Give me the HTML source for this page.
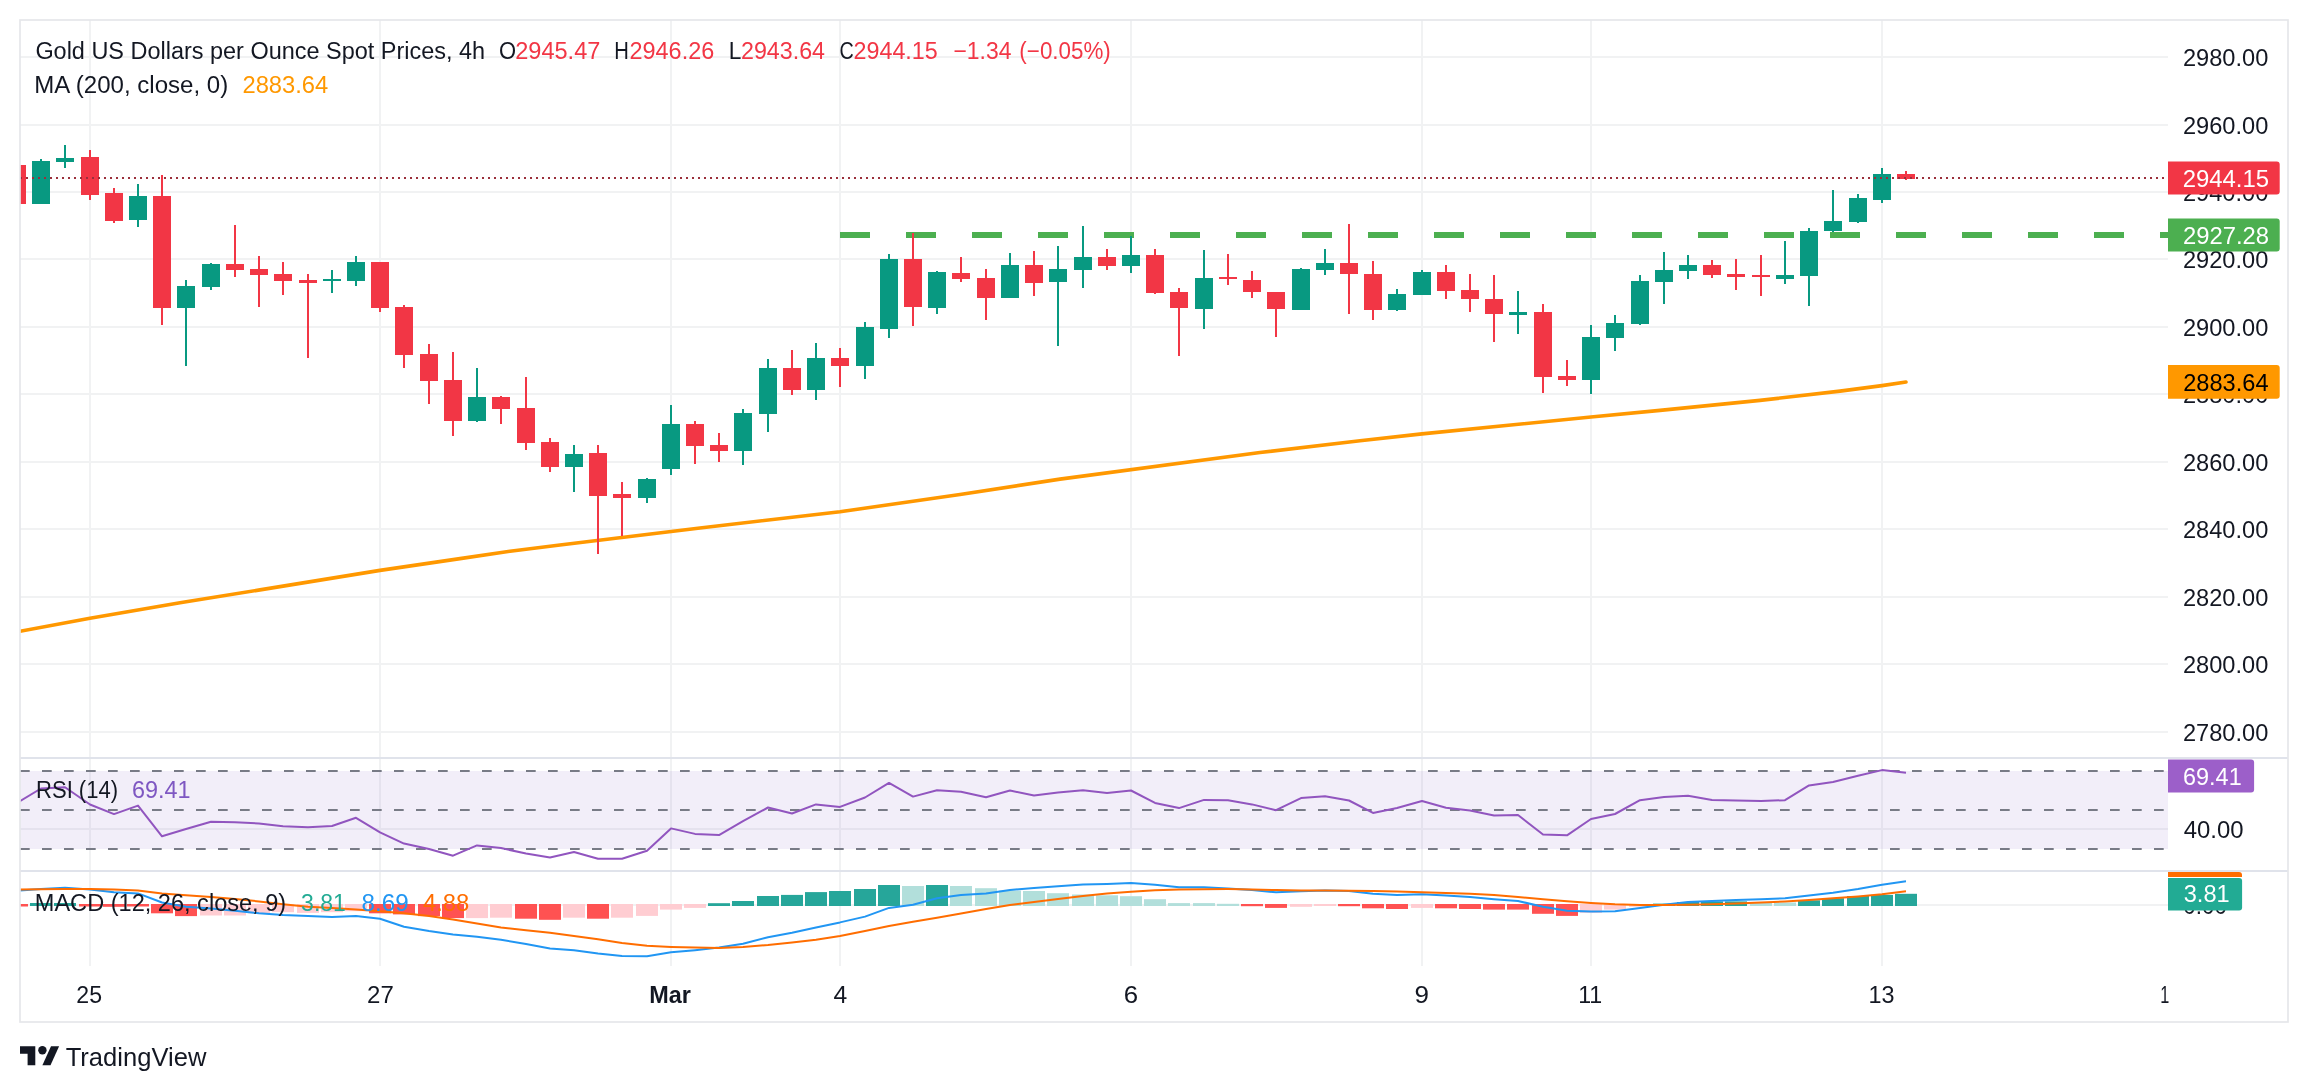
<!DOCTYPE html>
<html><head><meta charset="utf-8"><title>Gold US Dollars per Ounce Spot Prices chart</title><style>
html,body{margin:0;padding:0;background:#ffffff;width:2308px;height:1092px;overflow:hidden}
svg{display:block;will-change:transform}
text{font-family:"Liberation Sans",sans-serif}
</style></head><body>
<svg width="2308" height="1092" viewBox="0 0 2308 1092">
<rect x="0" y="0" width="2308" height="1092" fill="#ffffff"/>
<g fill="#F1F2F3">
<rect x="20" y="56" width="2148" height="2"/>
<rect x="20" y="124" width="2148" height="2"/>
<rect x="20" y="191" width="2148" height="2"/>
<rect x="20" y="258" width="2148" height="2"/>
<rect x="20" y="326" width="2148" height="2"/>
<rect x="20" y="393" width="2148" height="2"/>
<rect x="20" y="461" width="2148" height="2"/>
<rect x="20" y="528" width="2148" height="2"/>
<rect x="20" y="596" width="2148" height="2"/>
<rect x="20" y="663" width="2148" height="2"/>
<rect x="20" y="731" width="2148" height="2"/>
<rect x="89" y="20" width="2" height="946"/>
<rect x="379" y="20" width="2" height="946"/>
<rect x="670" y="20" width="2" height="946"/>
<rect x="839" y="20" width="2" height="946"/>
<rect x="1130" y="20" width="2" height="946"/>
<rect x="1421" y="20" width="2" height="946"/>
<rect x="1590" y="20" width="2" height="946"/>
<rect x="1881" y="20" width="2" height="946"/>
</g>
<rect x="20" y="828" width="2148" height="2" fill="#F1F2F3"/>
<rect x="20" y="771" width="2148" height="78" fill="#7E57C2" fill-opacity="0.1"/>
<line x1="20" y1="771" x2="2168" y2="771" stroke="#787B86" stroke-width="2" stroke-dasharray="9.7 12.3"/>
<line x1="20" y1="810" x2="2168" y2="810" stroke="#787B86" stroke-width="2" stroke-dasharray="9.7 12.3"/>
<line x1="20" y1="849" x2="2168" y2="849" stroke="#787B86" stroke-width="2" stroke-dasharray="9.7 12.3"/>
<rect x="20" y="904" width="2148" height="2" fill="#F1F2F3"/>
<defs>
<clipPath id="cmain"><rect x="20" y="20" width="2148" height="737"/></clipPath>
<clipPath id="crsi"><rect x="20" y="759" width="2148" height="111"/></clipPath>
<clipPath id="cmacd"><rect x="20" y="872" width="2148" height="94"/></clipPath>
</defs>
<g clip-path="url(#cmain)">
<polyline points="20,631.3 90,618.3 180,602.7 260,589.9 380,570.4 460,558.6 510,551.2 560,545.0 700,528.0 840,511.7 960,494.5 1060,479.1 1260,452.5 1360,440.8 1422,433.9 1591,417.0 1660,410.4 1760,400.4 1840,391.1 1882,385.6 1906,382.0" fill="none" stroke="#FF9800" stroke-width="3.6" stroke-linejoin="round" stroke-linecap="round"/>
<g fill="#4CAF50">
<rect x="840" y="232" width="30" height="6"/>
<rect x="906" y="232" width="30" height="6"/>
<rect x="972" y="232" width="30" height="6"/>
<rect x="1038" y="232" width="30" height="6"/>
<rect x="1104" y="232" width="30" height="6"/>
<rect x="1170" y="232" width="30" height="6"/>
<rect x="1236" y="232" width="30" height="6"/>
<rect x="1302" y="232" width="30" height="6"/>
<rect x="1368" y="232" width="30" height="6"/>
<rect x="1434" y="232" width="30" height="6"/>
<rect x="1500" y="232" width="30" height="6"/>
<rect x="1566" y="232" width="30" height="6"/>
<rect x="1632" y="232" width="30" height="6"/>
<rect x="1698" y="232" width="30" height="6"/>
<rect x="1764" y="232" width="30" height="6"/>
<rect x="1830" y="232" width="30" height="6"/>
<rect x="1896" y="232" width="30" height="6"/>
<rect x="1962" y="232" width="30" height="6"/>
<rect x="2028" y="232" width="30" height="6"/>
<rect x="2094" y="232" width="30" height="6"/>
<rect x="2160" y="232" width="8" height="6"/>
</g>
<rect x="16" y="163" width="2" height="42" fill="#F23645"/>
<rect x="8" y="165" width="18" height="39" fill="#F23645"/>
<rect x="40" y="159" width="2" height="45" fill="#089981"/>
<rect x="32" y="161" width="18" height="43" fill="#089981"/>
<rect x="64" y="145" width="2" height="23" fill="#089981"/>
<rect x="56" y="158" width="18" height="4" fill="#089981"/>
<rect x="89" y="150" width="2" height="50" fill="#F23645"/>
<rect x="81" y="157" width="18" height="38" fill="#F23645"/>
<rect x="113" y="188" width="2" height="35" fill="#F23645"/>
<rect x="105" y="193" width="18" height="28" fill="#F23645"/>
<rect x="137" y="184" width="2" height="43" fill="#089981"/>
<rect x="129" y="196" width="18" height="24" fill="#089981"/>
<rect x="161" y="175" width="2" height="150" fill="#F23645"/>
<rect x="153" y="196" width="18" height="112" fill="#F23645"/>
<rect x="185" y="280" width="2" height="86" fill="#089981"/>
<rect x="177" y="286" width="18" height="22" fill="#089981"/>
<rect x="210" y="263" width="2" height="27" fill="#089981"/>
<rect x="202" y="264" width="18" height="23" fill="#089981"/>
<rect x="234" y="225" width="2" height="52" fill="#F23645"/>
<rect x="226" y="264" width="18" height="6" fill="#F23645"/>
<rect x="258" y="256" width="2" height="51" fill="#F23645"/>
<rect x="250" y="269" width="18" height="6" fill="#F23645"/>
<rect x="282" y="262" width="2" height="33" fill="#F23645"/>
<rect x="274" y="274" width="18" height="7" fill="#F23645"/>
<rect x="307" y="274" width="2" height="84" fill="#F23645"/>
<rect x="299" y="280" width="18" height="3" fill="#F23645"/>
<rect x="331" y="270" width="2" height="23" fill="#089981"/>
<rect x="323" y="279" width="18" height="2" fill="#089981"/>
<rect x="355" y="256" width="2" height="30" fill="#089981"/>
<rect x="347" y="262" width="18" height="19" fill="#089981"/>
<rect x="379" y="262" width="2" height="50" fill="#F23645"/>
<rect x="371" y="262" width="18" height="46" fill="#F23645"/>
<rect x="403" y="305" width="2" height="63" fill="#F23645"/>
<rect x="395" y="307" width="18" height="48" fill="#F23645"/>
<rect x="428" y="344" width="2" height="60" fill="#F23645"/>
<rect x="420" y="354" width="18" height="27" fill="#F23645"/>
<rect x="452" y="352" width="2" height="84" fill="#F23645"/>
<rect x="444" y="380" width="18" height="41" fill="#F23645"/>
<rect x="476" y="368" width="2" height="54" fill="#089981"/>
<rect x="468" y="397" width="18" height="24" fill="#089981"/>
<rect x="500" y="396" width="2" height="28" fill="#F23645"/>
<rect x="492" y="397" width="18" height="12" fill="#F23645"/>
<rect x="525" y="377" width="2" height="73" fill="#F23645"/>
<rect x="517" y="408" width="18" height="35" fill="#F23645"/>
<rect x="549" y="438" width="2" height="34" fill="#F23645"/>
<rect x="541" y="442" width="18" height="25" fill="#F23645"/>
<rect x="573" y="445" width="2" height="47" fill="#089981"/>
<rect x="565" y="454" width="18" height="13" fill="#089981"/>
<rect x="597" y="445" width="2" height="109" fill="#F23645"/>
<rect x="589" y="453" width="18" height="43" fill="#F23645"/>
<rect x="621" y="482" width="2" height="54" fill="#F23645"/>
<rect x="613" y="494" width="18" height="4" fill="#F23645"/>
<rect x="646" y="478" width="2" height="25" fill="#089981"/>
<rect x="638" y="479" width="18" height="19" fill="#089981"/>
<rect x="670" y="405" width="2" height="70" fill="#089981"/>
<rect x="662" y="424" width="18" height="45" fill="#089981"/>
<rect x="694" y="421" width="2" height="43" fill="#F23645"/>
<rect x="686" y="424" width="18" height="22" fill="#F23645"/>
<rect x="718" y="433" width="2" height="29" fill="#F23645"/>
<rect x="710" y="445" width="18" height="6" fill="#F23645"/>
<rect x="742" y="409" width="2" height="56" fill="#089981"/>
<rect x="734" y="413" width="18" height="38" fill="#089981"/>
<rect x="767" y="359" width="2" height="73" fill="#089981"/>
<rect x="759" y="368" width="18" height="46" fill="#089981"/>
<rect x="791" y="350" width="2" height="45" fill="#F23645"/>
<rect x="783" y="368" width="18" height="22" fill="#F23645"/>
<rect x="815" y="343" width="2" height="57" fill="#089981"/>
<rect x="807" y="358" width="18" height="32" fill="#089981"/>
<rect x="839" y="348" width="2" height="39" fill="#F23645"/>
<rect x="831" y="358" width="18" height="8" fill="#F23645"/>
<rect x="864" y="322" width="2" height="57" fill="#089981"/>
<rect x="856" y="327" width="18" height="39" fill="#089981"/>
<rect x="888" y="254" width="2" height="84" fill="#089981"/>
<rect x="880" y="259" width="18" height="70" fill="#089981"/>
<rect x="912" y="233" width="2" height="93" fill="#F23645"/>
<rect x="904" y="259" width="18" height="48" fill="#F23645"/>
<rect x="936" y="271" width="2" height="43" fill="#089981"/>
<rect x="928" y="272" width="18" height="36" fill="#089981"/>
<rect x="960" y="257" width="2" height="25" fill="#F23645"/>
<rect x="952" y="273" width="18" height="6" fill="#F23645"/>
<rect x="985" y="269" width="2" height="51" fill="#F23645"/>
<rect x="977" y="278" width="18" height="20" fill="#F23645"/>
<rect x="1009" y="253" width="2" height="45" fill="#089981"/>
<rect x="1001" y="265" width="18" height="33" fill="#089981"/>
<rect x="1033" y="251" width="2" height="45" fill="#F23645"/>
<rect x="1025" y="265" width="18" height="18" fill="#F23645"/>
<rect x="1057" y="246" width="2" height="100" fill="#089981"/>
<rect x="1049" y="269" width="18" height="13" fill="#089981"/>
<rect x="1082" y="226" width="2" height="62" fill="#089981"/>
<rect x="1074" y="257" width="18" height="13" fill="#089981"/>
<rect x="1106" y="249" width="2" height="21" fill="#F23645"/>
<rect x="1098" y="257" width="18" height="9" fill="#F23645"/>
<rect x="1130" y="236" width="2" height="37" fill="#089981"/>
<rect x="1122" y="255" width="18" height="11" fill="#089981"/>
<rect x="1154" y="249" width="2" height="45" fill="#F23645"/>
<rect x="1146" y="255" width="18" height="38" fill="#F23645"/>
<rect x="1178" y="288" width="2" height="68" fill="#F23645"/>
<rect x="1170" y="292" width="18" height="16" fill="#F23645"/>
<rect x="1203" y="250" width="2" height="79" fill="#089981"/>
<rect x="1195" y="278" width="18" height="31" fill="#089981"/>
<rect x="1227" y="254" width="2" height="31" fill="#F23645"/>
<rect x="1219" y="277" width="18" height="2" fill="#F23645"/>
<rect x="1251" y="271" width="2" height="27" fill="#F23645"/>
<rect x="1243" y="280" width="18" height="12" fill="#F23645"/>
<rect x="1275" y="292" width="2" height="45" fill="#F23645"/>
<rect x="1267" y="292" width="18" height="17" fill="#F23645"/>
<rect x="1300" y="268" width="2" height="42" fill="#089981"/>
<rect x="1292" y="269" width="18" height="41" fill="#089981"/>
<rect x="1324" y="249" width="2" height="26" fill="#089981"/>
<rect x="1316" y="263" width="18" height="7" fill="#089981"/>
<rect x="1348" y="224" width="2" height="90" fill="#F23645"/>
<rect x="1340" y="263" width="18" height="11" fill="#F23645"/>
<rect x="1372" y="261" width="2" height="59" fill="#F23645"/>
<rect x="1364" y="274" width="18" height="36" fill="#F23645"/>
<rect x="1396" y="289" width="2" height="22" fill="#089981"/>
<rect x="1388" y="294" width="18" height="16" fill="#089981"/>
<rect x="1421" y="270" width="2" height="25" fill="#089981"/>
<rect x="1413" y="272" width="18" height="23" fill="#089981"/>
<rect x="1445" y="265" width="2" height="34" fill="#F23645"/>
<rect x="1437" y="272" width="18" height="19" fill="#F23645"/>
<rect x="1469" y="274" width="2" height="38" fill="#F23645"/>
<rect x="1461" y="290" width="18" height="9" fill="#F23645"/>
<rect x="1493" y="275" width="2" height="67" fill="#F23645"/>
<rect x="1485" y="299" width="18" height="15" fill="#F23645"/>
<rect x="1517" y="291" width="2" height="43" fill="#089981"/>
<rect x="1509" y="312" width="18" height="3" fill="#089981"/>
<rect x="1542" y="304" width="2" height="89" fill="#F23645"/>
<rect x="1534" y="312" width="18" height="65" fill="#F23645"/>
<rect x="1566" y="360" width="2" height="26" fill="#F23645"/>
<rect x="1558" y="376" width="18" height="4" fill="#F23645"/>
<rect x="1590" y="325" width="2" height="69" fill="#089981"/>
<rect x="1582" y="337" width="18" height="43" fill="#089981"/>
<rect x="1614" y="315" width="2" height="36" fill="#089981"/>
<rect x="1606" y="323" width="18" height="15" fill="#089981"/>
<rect x="1639" y="275" width="2" height="50" fill="#089981"/>
<rect x="1631" y="281" width="18" height="43" fill="#089981"/>
<rect x="1663" y="252" width="2" height="52" fill="#089981"/>
<rect x="1655" y="270" width="18" height="12" fill="#089981"/>
<rect x="1687" y="255" width="2" height="24" fill="#089981"/>
<rect x="1679" y="265" width="18" height="6" fill="#089981"/>
<rect x="1711" y="260" width="2" height="18" fill="#F23645"/>
<rect x="1703" y="265" width="18" height="10" fill="#F23645"/>
<rect x="1735" y="259" width="2" height="31" fill="#F23645"/>
<rect x="1727" y="274" width="18" height="3" fill="#F23645"/>
<rect x="1760" y="255" width="2" height="41" fill="#F23645"/>
<rect x="1752" y="275" width="18" height="2" fill="#F23645"/>
<rect x="1784" y="241" width="2" height="43" fill="#089981"/>
<rect x="1776" y="275" width="18" height="4" fill="#089981"/>
<rect x="1808" y="228" width="2" height="78" fill="#089981"/>
<rect x="1800" y="231" width="18" height="45" fill="#089981"/>
<rect x="1832" y="190" width="2" height="42" fill="#089981"/>
<rect x="1824" y="221" width="18" height="10" fill="#089981"/>
<rect x="1857" y="194" width="2" height="29" fill="#089981"/>
<rect x="1849" y="198" width="18" height="24" fill="#089981"/>
<rect x="1881" y="168" width="2" height="35" fill="#089981"/>
<rect x="1873" y="174" width="18" height="26" fill="#089981"/>
<rect x="1905" y="171" width="2" height="9" fill="#F23645"/>
<rect x="1897" y="174" width="18" height="5" fill="#F23645"/>
<line x1="20" y1="178" x2="2168" y2="178" stroke="#9A2F3B" stroke-width="2" stroke-dasharray="2 4"/>
</g>
<g clip-path="url(#crsi)">
<polyline points="17.0,803.0 41.0,788.5 65.0,787.2 90.0,804.5 114.0,814.1 138.0,805.6 162.0,836.3 186.0,829.0 211.0,821.7 235.0,822.3 259.0,823.5 283.0,826.3 308.0,827.2 332.0,826.0 356.0,817.8 380.0,832.3 404.0,843.6 429.0,849.0 453.0,855.7 477.0,845.4 501.0,848.1 526.0,853.6 550.0,857.5 574.0,852.0 598.0,858.7 622.0,858.7 647.0,850.8 671.0,828.4 695.0,833.9 719.0,835.1 743.0,821.1 768.0,807.5 792.0,813.5 816.0,804.4 840.0,806.9 865.0,797.5 889.0,782.9 913.0,796.6 937.0,790.2 961.0,791.7 986.0,797.2 1010.0,790.5 1034.0,795.6 1058.0,792.6 1083.0,790.2 1107.0,792.9 1131.0,790.5 1155.0,802.9 1179.0,808.1 1204.0,799.9 1228.0,800.2 1252.0,804.4 1276.0,810.2 1301.0,798.1 1325.0,796.2 1349.0,800.5 1373.0,812.9 1397.0,808.0 1422.0,801.0 1446.0,807.8 1470.0,810.4 1494.0,815.6 1518.0,815.0 1543.0,834.5 1567.0,835.3 1591.0,819.0 1615.0,814.0 1640.0,800.2 1664.0,796.9 1688.0,795.8 1712.0,800.0 1736.0,800.5 1761.0,801.0 1785.0,800.2 1809.0,785.4 1833.0,782.0 1858.0,775.8 1882.0,770.1 1906.0,772.7" fill="none" stroke="#9155BF" stroke-width="2" stroke-linejoin="round"/>
</g>
<g clip-path="url(#cmacd)">
<rect x="6.0" y="904.0" width="22" height="2.5" fill="#FF5252"/>
<rect x="30.0" y="903.0" width="22" height="3.0" fill="#26A69A"/>
<rect x="54.0" y="903.0" width="22" height="3.0" fill="#26A69A"/>
<rect x="79.0" y="904.0" width="22" height="2.5" fill="#FF5252"/>
<rect x="103.0" y="904.0" width="22" height="2.8" fill="#FF5252"/>
<rect x="127.0" y="904.0" width="22" height="2.5" fill="#FF5252"/>
<rect x="151.0" y="904.0" width="22" height="9.3" fill="#FF5252"/>
<rect x="175.0" y="904.0" width="22" height="12.1" fill="#FF5252"/>
<rect x="200.0" y="904.0" width="22" height="11.5" fill="#FFCDD2"/>
<rect x="224.0" y="904.0" width="22" height="11.5" fill="#FFCDD2"/>
<rect x="248.0" y="904.0" width="22" height="9.3" fill="#FFCDD2"/>
<rect x="272.0" y="904.0" width="22" height="8.2" fill="#FFCDD2"/>
<rect x="297.0" y="904.0" width="22" height="8.9" fill="#FFCDD2"/>
<rect x="321.0" y="904.0" width="22" height="8.2" fill="#FFCDD2"/>
<rect x="345.0" y="904.0" width="22" height="7.2" fill="#FFCDD2"/>
<rect x="369.0" y="904.0" width="22" height="9.3" fill="#FF5252"/>
<rect x="393.0" y="904.0" width="22" height="10.4" fill="#FF5252"/>
<rect x="418.0" y="904.0" width="22" height="12.1" fill="#FF5252"/>
<rect x="442.0" y="904.0" width="22" height="14.1" fill="#FF5252"/>
<rect x="466.0" y="904.0" width="22" height="14.1" fill="#FFCDD2"/>
<rect x="490.0" y="904.0" width="22" height="13.7" fill="#FFCDD2"/>
<rect x="515.0" y="904.0" width="22" height="14.7" fill="#FF5252"/>
<rect x="539.0" y="904.0" width="22" height="15.8" fill="#FF5252"/>
<rect x="563.0" y="904.0" width="22" height="13.7" fill="#FFCDD2"/>
<rect x="587.0" y="904.0" width="22" height="14.7" fill="#FF5252"/>
<rect x="611.0" y="904.0" width="22" height="13.7" fill="#FFCDD2"/>
<rect x="636.0" y="904.0" width="22" height="11.9" fill="#FFCDD2"/>
<rect x="660.0" y="904.0" width="22" height="5.6" fill="#FFCDD2"/>
<rect x="684.0" y="904.0" width="22" height="3.9" fill="#FFCDD2"/>
<rect x="708.0" y="903.2" width="22" height="2.8" fill="#26A69A"/>
<rect x="732.0" y="901.0" width="22" height="5.0" fill="#26A69A"/>
<rect x="757.0" y="896.0" width="22" height="10.0" fill="#26A69A"/>
<rect x="781.0" y="894.9" width="22" height="11.1" fill="#26A69A"/>
<rect x="805.0" y="892.1" width="22" height="13.9" fill="#26A69A"/>
<rect x="829.0" y="891.0" width="22" height="15.0" fill="#26A69A"/>
<rect x="854.0" y="889.0" width="22" height="17.0" fill="#26A69A"/>
<rect x="878.0" y="885.0" width="22" height="21.0" fill="#26A69A"/>
<rect x="902.0" y="886.0" width="22" height="20.0" fill="#B2DFDB"/>
<rect x="926.0" y="885.0" width="22" height="21.0" fill="#26A69A"/>
<rect x="950.0" y="886.0" width="22" height="20.0" fill="#B2DFDB"/>
<rect x="975.0" y="888.2" width="22" height="17.8" fill="#B2DFDB"/>
<rect x="999.0" y="890.6" width="22" height="15.4" fill="#B2DFDB"/>
<rect x="1023.0" y="891.0" width="22" height="15.0" fill="#B2DFDB"/>
<rect x="1047.0" y="893.2" width="22" height="12.8" fill="#B2DFDB"/>
<rect x="1072.0" y="894.5" width="22" height="11.5" fill="#B2DFDB"/>
<rect x="1096.0" y="895.3" width="22" height="10.7" fill="#B2DFDB"/>
<rect x="1120.0" y="896.2" width="22" height="9.8" fill="#B2DFDB"/>
<rect x="1144.0" y="899.2" width="22" height="6.8" fill="#B2DFDB"/>
<rect x="1168.0" y="903.1" width="22" height="2.9" fill="#B2DFDB"/>
<rect x="1193.0" y="903.1" width="22" height="2.9" fill="#B2DFDB"/>
<rect x="1217.0" y="903.8" width="22" height="2.2" fill="#B2DFDB"/>
<rect x="1241.0" y="904.0" width="22" height="2.2" fill="#FF5252"/>
<rect x="1265.0" y="904.0" width="22" height="3.9" fill="#FF5252"/>
<rect x="1290.0" y="904.0" width="22" height="2.8" fill="#FFCDD2"/>
<rect x="1314.0" y="904.0" width="22" height="2.0" fill="#FFCDD2"/>
<rect x="1338.0" y="904.0" width="22" height="2.2" fill="#FF5252"/>
<rect x="1362.0" y="904.0" width="22" height="4.3" fill="#FF5252"/>
<rect x="1386.0" y="904.0" width="22" height="5.0" fill="#FF5252"/>
<rect x="1411.0" y="904.0" width="22" height="3.9" fill="#FFCDD2"/>
<rect x="1435.0" y="904.0" width="22" height="4.3" fill="#FF5252"/>
<rect x="1459.0" y="904.0" width="22" height="5.0" fill="#FF5252"/>
<rect x="1483.0" y="904.0" width="22" height="5.6" fill="#FF5252"/>
<rect x="1507.0" y="904.0" width="22" height="5.6" fill="#FF5252"/>
<rect x="1532.0" y="904.0" width="22" height="9.8" fill="#FF5252"/>
<rect x="1556.0" y="904.0" width="22" height="11.9" fill="#FF5252"/>
<rect x="1580.0" y="904.0" width="22" height="8.9" fill="#FFCDD2"/>
<rect x="1604.0" y="904.0" width="22" height="5.6" fill="#FFCDD2"/>
<rect x="1629.0" y="904.0" width="22" height="2.8" fill="#FFCDD2"/>
<rect x="1653.0" y="903.6" width="22" height="2.4" fill="#26A69A"/>
<rect x="1677.0" y="902.0" width="22" height="4.0" fill="#26A69A"/>
<rect x="1701.0" y="901.4" width="22" height="4.6" fill="#26A69A"/>
<rect x="1725.0" y="901.4" width="22" height="4.6" fill="#26A69A"/>
<rect x="1750.0" y="902.5" width="22" height="3.5" fill="#B2DFDB"/>
<rect x="1774.0" y="902.5" width="22" height="3.5" fill="#B2DFDB"/>
<rect x="1798.0" y="900.3" width="22" height="5.7" fill="#26A69A"/>
<rect x="1822.0" y="898.2" width="22" height="7.8" fill="#26A69A"/>
<rect x="1847.0" y="896.0" width="22" height="10.0" fill="#26A69A"/>
<rect x="1871.0" y="894.9" width="22" height="11.1" fill="#26A69A"/>
<rect x="1895.0" y="893.8" width="22" height="12.2" fill="#26A69A"/>
<polyline points="20,890.6 41,889 65,887.8 90,889.5 114,892.3 138,893.4 162,902.5 186,906.8 211,908.6 235,910.7 259,913.3 283,915 308,916.1 332,917 356,916.1 380,918.7 404,926.8 429,931.1 453,934.6 477,936.7 501,939.8 526,944.1 550,948.4 574,950.2 598,953.4 622,956 647,956.2 671,952.3 695,950.2 719,947.6 743,943.7 768,937.2 792,932.8 816,927.4 840,922.4 865,916.6 889,907.9 913,904.7 937,898.2 961,894.9 986,893.4 1010,889.9 1034,888 1058,886.2 1083,884.5 1107,883.9 1131,883 1155,884.7 1179,887.3 1204,887.3 1228,888.4 1252,889.9 1276,892.3 1301,891.2 1325,890.6 1349,891 1373,893.8 1397,894.9 1422,894.3 1446,895.6 1470,897.1 1494,899.2 1518,901 1543,906.8 1567,910.7 1591,911.6 1615,911.2 1640,907.9 1664,904.7 1688,902.1 1712,901 1736,899.9 1761,899.2 1785,898.2 1809,895.6 1833,892.7 1858,889.1 1882,884.7 1906,881.3" fill="none" stroke="#2196F3" stroke-width="2" stroke-linejoin="round"/>
<polyline points="20,889.5 41,889.3 65,889.1 90,889.0 114,889.5 138,890.6 162,893.4 186,895.2 211,897.0 235,899.1 259,901.4 283,904.2 308,906.8 332,908.1 356,909.4 380,911.2 404,913.3 429,916.1 453,919.4 477,923.5 501,927.4 526,930.2 550,932.8 574,936.0 598,939.3 622,942.9 647,945.8 671,946.9 695,947.6 719,948.0 743,946.9 768,945.0 792,942.6 816,939.7 840,936.1 865,931.0 889,925.9 913,921.7 937,917.7 961,913.5 986,909.0 1010,905.0 1034,902.1 1058,899.0 1083,896.0 1107,893.6 1131,891.7 1155,890.3 1179,889.5 1204,889.2 1228,889.1 1252,889.5 1276,890.1 1301,890.4 1325,890.6 1349,890.8 1373,891.0 1397,891.5 1422,892.3 1446,893.0 1470,893.8 1494,894.9 1518,896.9 1543,899.2 1567,901.2 1591,902.9 1615,904.3 1640,905.1 1664,905.0 1688,904.7 1712,904.3 1736,903.6 1761,902.6 1785,901.4 1809,899.9 1833,898.2 1858,896.4 1882,894.3 1906,891.2" fill="none" stroke="#FF6D00" stroke-width="2" stroke-linejoin="round"/>
</g>
<rect x="20" y="757" width="2268" height="2" fill="#E0E3EB"/>
<rect x="20" y="870" width="2268" height="2" fill="#E0E3EB"/>
<rect x="20" y="20" width="2268" height="1002" fill="none" stroke="#E6E7EA" stroke-width="1.7"/>
<text x="35.39" y="58.60" font-size="23.5" fill="#131722" textLength="449.67" lengthAdjust="spacingAndGlyphs">Gold US Dollars per Ounce Spot Prices, 4h</text>
<text x="498.97" y="58.60" font-size="23.5" fill="#131722" textLength="17.07" lengthAdjust="spacingAndGlyphs">O</text>
<text x="515.18" y="58.60" font-size="23.5" fill="#F23645" textLength="85.17" lengthAdjust="spacingAndGlyphs">2945.47</text>
<text x="614.14" y="58.60" font-size="23.5" fill="#131722" textLength="14.59" lengthAdjust="spacingAndGlyphs">H</text>
<text x="629.51" y="58.60" font-size="23.5" fill="#F23645" textLength="84.75" lengthAdjust="spacingAndGlyphs">2946.26</text>
<text x="728.78" y="58.60" font-size="23.5" fill="#131722" textLength="12.63" lengthAdjust="spacingAndGlyphs">L</text>
<text x="741.00" y="58.60" font-size="23.5" fill="#F23645" textLength="84.03" lengthAdjust="spacingAndGlyphs">2943.64</text>
<text x="839.62" y="58.60" font-size="23.5" fill="#131722" textLength="14.27" lengthAdjust="spacingAndGlyphs">C</text>
<text x="853.52" y="58.60" font-size="23.5" fill="#F23645" textLength="84.23" lengthAdjust="spacingAndGlyphs">2944.15</text>
<text x="953.48" y="58.60" font-size="23.5" fill="#F23645" textLength="58.00" lengthAdjust="spacingAndGlyphs">−1.34</text>
<text x="1019.37" y="58.60" font-size="23.5" fill="#F23645" textLength="91.42" lengthAdjust="spacingAndGlyphs">(−0.05%)</text>
<text x="34.33" y="92.70" font-size="23.5" fill="#131722" textLength="193.88" lengthAdjust="spacingAndGlyphs">MA (200, close, 0)</text>
<text x="242.44" y="92.70" font-size="23.5" fill="#FF9800" textLength="85.83" lengthAdjust="spacingAndGlyphs">2883.64</text>
<text x="36.05" y="797.90" font-size="23.5" fill="#131722" textLength="81.99" lengthAdjust="spacingAndGlyphs">RSI (14)</text>
<text x="132.04" y="797.90" font-size="23.5" fill="#7E57C2" textLength="58.60" lengthAdjust="spacingAndGlyphs">69.41</text>
<text x="34.79" y="910.80" font-size="23.5" fill="#131722" textLength="251.38" lengthAdjust="spacingAndGlyphs">MACD (12, 26, close, 9)</text>
<text x="301.09" y="910.80" font-size="23.5" fill="#22AB94" textLength="44.87" lengthAdjust="spacingAndGlyphs">3.81</text>
<text x="361.57" y="910.80" font-size="23.5" fill="#2196F3" textLength="47.13" lengthAdjust="spacingAndGlyphs">8.69</text>
<text x="422.97" y="910.80" font-size="23.5" fill="#FF6D00" textLength="46.36" lengthAdjust="spacingAndGlyphs">4.88</text>
<text x="2182.91" y="66.20" font-size="23.5" fill="#131722" textLength="85.39" lengthAdjust="spacingAndGlyphs">2980.00</text>
<text x="2182.91" y="134.20" font-size="23.5" fill="#131722" textLength="85.39" lengthAdjust="spacingAndGlyphs">2960.00</text>
<text x="2182.91" y="201.20" font-size="23.5" fill="#131722" textLength="85.39" lengthAdjust="spacingAndGlyphs">2940.00</text>
<text x="2182.91" y="268.20" font-size="23.5" fill="#131722" textLength="85.39" lengthAdjust="spacingAndGlyphs">2920.00</text>
<text x="2182.91" y="336.20" font-size="23.5" fill="#131722" textLength="85.39" lengthAdjust="spacingAndGlyphs">2900.00</text>
<text x="2182.91" y="403.20" font-size="23.5" fill="#131722" textLength="85.39" lengthAdjust="spacingAndGlyphs">2880.00</text>
<text x="2182.91" y="471.20" font-size="23.5" fill="#131722" textLength="85.39" lengthAdjust="spacingAndGlyphs">2860.00</text>
<text x="2182.91" y="538.20" font-size="23.5" fill="#131722" textLength="85.39" lengthAdjust="spacingAndGlyphs">2840.00</text>
<text x="2182.91" y="606.20" font-size="23.5" fill="#131722" textLength="85.39" lengthAdjust="spacingAndGlyphs">2820.00</text>
<text x="2182.91" y="673.20" font-size="23.5" fill="#131722" textLength="85.39" lengthAdjust="spacingAndGlyphs">2800.00</text>
<text x="2182.91" y="741.20" font-size="23.5" fill="#131722" textLength="85.39" lengthAdjust="spacingAndGlyphs">2780.00</text>
<text x="2183.74" y="837.90" font-size="23.5" fill="#131722" textLength="59.82" lengthAdjust="spacingAndGlyphs">40.00</text>
<text x="2183.33" y="913.80" font-size="23.5" fill="#131722" textLength="43.74" lengthAdjust="spacingAndGlyphs">0.00</text>
<path d="M2168,161.5 H2276.7 Q2279.7,161.5 2279.7,164.5 V191.5 Q2279.7,194.5 2276.7,194.5 H2168 Z" fill="#F23645"/>
<text x="2182.65" y="186.80" font-size="23.5" fill="#ffffff" textLength="86.47" lengthAdjust="spacingAndGlyphs">2944.15</text>
<path d="M2168,218.4 H2276.7 Q2279.7,218.4 2279.7,221.4 V248.4 Q2279.7,251.4 2276.7,251.4 H2168 Z" fill="#4CAF50"/>
<text x="2182.92" y="243.80" font-size="23.5" fill="#ffffff" textLength="86.09" lengthAdjust="spacingAndGlyphs">2927.28</text>
<path d="M2168,365.1 H2276.7 Q2279.7,365.1 2279.7,368.1 V395.7 Q2279.7,398.7 2276.7,398.7 H2168 Z" fill="#FF9800"/>
<text x="2183.22" y="391.00" font-size="23.5" fill="#000000" textLength="85.29" lengthAdjust="spacingAndGlyphs">2883.64</text>
<path d="M2168,759.4 H2251.1 Q2254.1,759.4 2254.1,762.4 V789.6 Q2254.1,792.6 2251.1,792.6 H2168 Z" fill="#9C5FC9"/>
<text x="2183.04" y="784.60" font-size="23.5" fill="#ffffff" textLength="58.64" lengthAdjust="spacingAndGlyphs">69.41</text>
<path d="M2168,872 H2239 Q2242,872 2242,875 V877 H2168 Z" fill="#FF6D00"/>
<path d="M2168,877.9 H2239.1 Q2242.1,877.9 2242.1,880.9 V907.5 Q2242.1,910.5 2239.1,910.5 H2168 Z" fill="#22AB94"/>
<text x="2183.74" y="901.70" font-size="23.5" fill="#ffffff" textLength="45.94" lengthAdjust="spacingAndGlyphs">3.81</text>
<text x="76.34" y="1002.90" font-size="23.5" fill="#131722" textLength="25.68" lengthAdjust="spacingAndGlyphs">25</text>
<text x="367.10" y="1002.90" font-size="23.5" fill="#131722" textLength="26.70" lengthAdjust="spacingAndGlyphs">27</text>
<text x="649.17" y="1002.90" font-size="23.5" fill="#131722" font-weight="bold" textLength="41.63" lengthAdjust="spacingAndGlyphs">Mar</text>
<text x="833.42" y="1002.90" font-size="23.5" fill="#131722" textLength="13.74" lengthAdjust="spacingAndGlyphs">4</text>
<text x="1123.77" y="1002.90" font-size="23.5" fill="#131722" textLength="14.39" lengthAdjust="spacingAndGlyphs">6</text>
<text x="1414.42" y="1002.90" font-size="23.5" fill="#131722" textLength="14.47" lengthAdjust="spacingAndGlyphs">9</text>
<text x="1578.17" y="1002.90" font-size="23.5" fill="#131722" textLength="24.10" lengthAdjust="spacingAndGlyphs">11</text>
<text x="1868.54" y="1002.90" font-size="23.5" fill="#131722" textLength="26.01" lengthAdjust="spacingAndGlyphs">13</text>
<text x="2160.24" y="1002.90" font-size="23.5" fill="#131722" textLength="9.06" lengthAdjust="spacingAndGlyphs">1</text>
<g fill="#131722">
<path d="M20,1046.2 H35.3 V1065.3 H27.6 V1053.8 H20 Z"/>
<circle cx="42.4" cy="1050.2" r="4.2"/>
<path d="M51,1046.2 H59.1 L50.5,1065.3 H42.4 Z"/>
</g>
<text x="65.69" y="1065.70" font-size="26" fill="#131722" textLength="140.69" lengthAdjust="spacingAndGlyphs">TradingView</text>
</svg>
</body></html>
